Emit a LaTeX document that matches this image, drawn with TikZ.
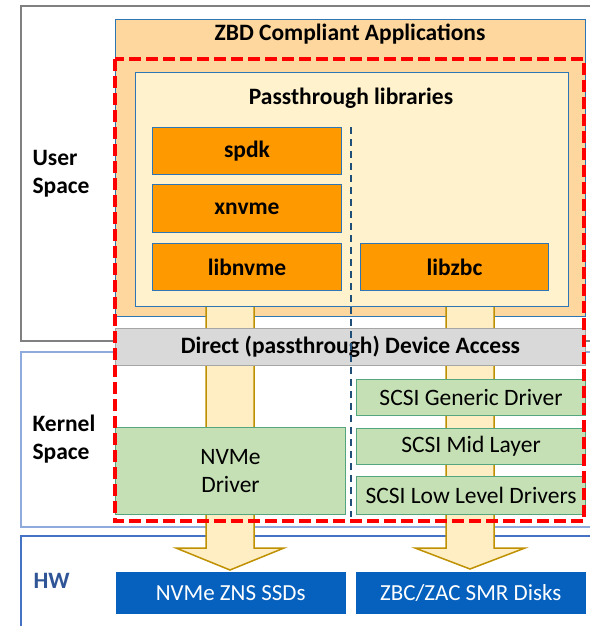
\documentclass[tikz,border=0pt]{standalone}
\usepackage{fontspec}
\setmainfont{Carlito}
\definecolor{appfill}{RGB}{253,215,158}
\definecolor{libfill}{RGB}{255,242,204}
\definecolor{orng}{RGB}{255,153,0}
\definecolor{edgeblue}{RGB}{46,117,182}
\definecolor{drvfill}{RGB}{197,224,180}
\definecolor{drvedge}{RGB}{84,166,126}
\definecolor{barfill}{RGB}{217,217,217}
\definecolor{hwfill}{RGB}{5,96,190}
\definecolor{hwedge}{RGB}{68,114,196}
\definecolor{kernedge}{RGB}{143,170,220}
\definecolor{arrfill}{RGB}{255,238,196}
\definecolor{arredge}{RGB}{191,144,0}
\definecolor{hwtext}{RGB}{47,85,151}
\definecolor{sepblue}{RGB}{31,78,121}
\tikzset{
  blk/.style={draw, anchor=north west, inner sep=0pt, font=\fontsize{23.5}{28}\selectfont},
  lib/.style={blk, fill=orng, draw=edgeblue, line width=1pt, font=\fontsize{23.5}{28}\selectfont\bfseries},
  drv/.style={blk, fill=drvfill, draw=drvedge, line width=1pt, align=center, font=\fontsize{23.5}{28}\selectfont},
  dev/.style={blk, fill=hwfill, draw=hwfill, text=white, font=\fontsize{23}{28}\selectfont},
  fatarrow/.style={fill=arrfill, draw=arredge, line width=1.5pt, line join=miter},
  side/.style={align=left, anchor=west, font=\fontsize{23.5}{28}\selectfont\bfseries},
  ttl/.style={font=\fontsize{23.5}{28}\selectfont\bfseries}
}
\begin{document}
\begin{tikzpicture}[x=1pt,y=-1pt]
  \useasboundingbox (0,0) rectangle (589,626);
  % layers
  \node[blk, draw=gray, line width=2pt, minimum width=620, minimum height=335] (user) at (20,5) {};
  \node[blk, draw=kernedge, line width=1.5pt, minimum width=620, minimum height=175] (kernel) at (20,351) {};
  \node[blk, draw=hwedge, line width=2pt, minimum width=620, minimum height=120] (hw) at (20,535) {};
  \node[side] (userlbl) at (29,174) {User\\Space};
  \node[side] (kernlbl) at (29,439) {Kernel\\Space};
  \node[side, text=hwtext] (hwlbl) at (30,581) {HW};

  \node[blk, fill=appfill, draw=edgeblue, line width=1pt, minimum width=470, minimum height=297] (zbd) at (115,19) {};
  \node[ttl] (zbdlbl) at (350,34) {ZBD Compliant Applications};

  % big arrows down to the devices
  \draw[fatarrow] (206,300) -- (206,548) -- (176,548) -- (230,570) -- (284,548) -- (254,548) -- (254,300) -- cycle;
  \draw[fatarrow] (446,300) -- (446,548) -- (415,548) -- (470,569) -- (525,548) -- (494,548) -- (494,300) -- cycle;

  \node[blk, fill=libfill, draw=edgeblue, line width=1pt, minimum width=433, minimum height=234] (ptlib) at (135,72) {};
  \node[ttl] (ptlbl) at (351,98) {Passthrough libraries};
  \node[lib, minimum width=189, minimum height=47] (spdk) at (152,127) {spdk};
  \node[lib, minimum width=189, minimum height=48] (xnvme) at (152,184) {xnvme};
  \node[lib, minimum width=189, minimum height=47] (libnvme) at (152,243) {libnvme};
  \node[lib, minimum width=188, minimum height=47] (libzbc) at (360,243) {libzbc};

  \node[blk, fill=barfill, draw=gray!70, line width=1pt, minimum width=470, minimum height=37, font=\fontsize{23.5}{28}\selectfont\bfseries] (direct) at (115,328) {Direct (passthrough) Device Access};

  \node[drv, minimum width=230, minimum height=87] (nvmedrv) at (115,427) {NVMe\\Driver};
  \node[drv, minimum width=229, minimum height=36] (sg) at (356,379) {SCSI Generic Driver};
  \node[drv, minimum width=229, minimum height=36] (mid) at (356,428) {SCSI Mid Layer};
  \node[drv, minimum width=229, minimum height=38] (lld) at (356,476) {SCSI Low Level Drivers};

  \node[dev, minimum width=229, minimum height=41] (zns) at (116,572) {NVMe ZNS SSDs};
  \node[dev, minimum width=229, minimum height=41] (smr) at (356,572) {ZBC/ZAC SMR Disks};

  \draw[sepblue, line width=2pt, dash pattern=on 7pt off 5pt] (351,127) -- (351,517);
  \draw[red, line width=4pt, dash pattern=on 12pt off 5pt] (115,59) rectangle (584,521);
\end{tikzpicture}
\end{document}
